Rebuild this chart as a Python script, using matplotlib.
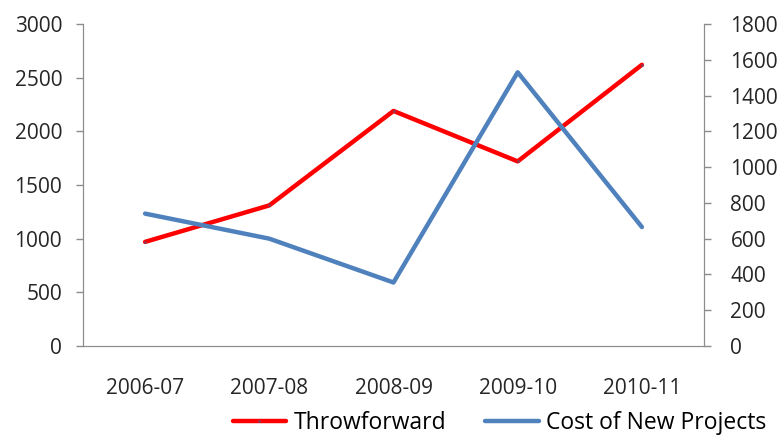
import matplotlib.pyplot as plt

# Yearly figures
years = ['2006-07', '2007-08', '2008-09', '2009-10', '2010-11']
throwforward = [970, 1310, 2190, 1720, 2620]
cost_new_projects = [740, 600, 355, 1530, 665]

plt.rcParams['font.family'] = ['Open Sans', 'DejaVu Sans']

fig = plt.figure(figsize=(7.8, 4.36), dpi=100)
ax = fig.add_axes([83 / 780, 90 / 436, 621 / 780, 322 / 436])
ax2 = ax.twinx()

x = range(len(years))
l1, = ax.plot(x, throwforward, color='#ff0000', lw=3.2, solid_capstyle='round',
              marker='o', markersize=2, markerfacecolor='#8b3a62', markeredgewidth=0)
l2, = ax2.plot(x, cost_new_projects, color='#4f81bd', lw=3.2, solid_capstyle='round')

ax.set_xlim(-0.5, len(years) - 0.5)
ax.set_ylim(0, 3000)
ax.set_yticks(range(0, 3001, 500))
ax2.set_ylim(0, 1800)
ax2.set_yticks(range(0, 1801, 200))

ax.set_xticks(list(x))
ax.set_xticklabels(years)

spine_col = '#8c8c8c'
for a in (ax, ax2):
    a.spines['top'].set_visible(False)
    for s in ('left', 'right', 'bottom'):
        a.spines[s].set_color(spine_col)
    a.tick_params(axis='y', colors=spine_col, labelcolor='#262626',
                  labelsize=15, length=5, width=1, pad=10)
ax2.tick_params(axis='y', pad=14)
ax.tick_params(axis='x', length=0, labelsize=15, labelcolor='#262626', pad=23)

fig.legend([l1, l2], ['Throwforward', 'Cost of New Projects'],
           loc='center', bbox_to_anchor=(0.64, 0.03), ncol=2, frameon=False,
           fontsize=16.5, handlelength=2.35, handletextpad=0.3, columnspacing=1.7,
           borderpad=0.2)

fig.savefig('out.png', dpi=100)
